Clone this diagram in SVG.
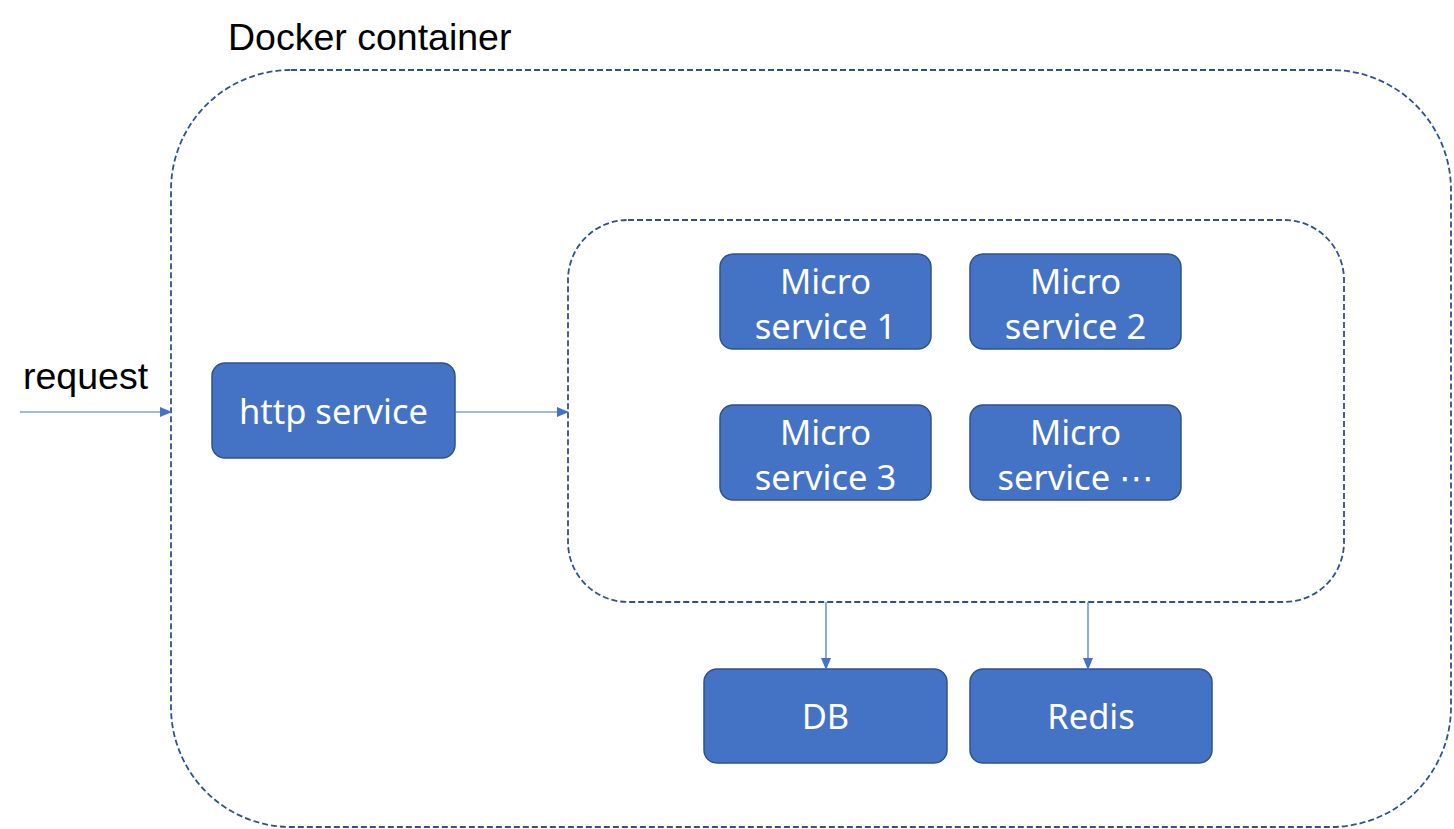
<svg xmlns="http://www.w3.org/2000/svg" width="1454" height="829" viewBox="0 0 1454 829">
<style>
.box{fill:#4472C4;stroke:#2F528F;stroke-width:1.5}
.cont{fill:none;stroke:#2F528F;stroke-width:1.8;stroke-dasharray:6 3}
.lbl{fill:#fff;font-family:"Noto Sans","DejaVu Sans",sans-serif;font-size:34.5px;text-anchor:middle}
.blk{fill:#000;font-family:"Liberation Sans",Arial,sans-serif;font-size:37.5px}
.conn{stroke:#4472C4;stroke-width:1.2;fill:none;marker-end:url(#ah)}
</style>
<defs>
<marker id="ah" markerWidth="12" markerHeight="10" refX="11" refY="5" orient="auto" markerUnits="userSpaceOnUse">
<path d="M0,0 L12,5 L0,10 Z" fill="#4472C4"/>
</marker>
</defs>
<rect width="1454" height="829" fill="#fff"/>
<g id="docker-container">
<rect class="cont" x="171" y="70" width="1280" height="757" rx="120" ry="120"/>
<text class="blk" x="228" y="50">Docker container</text>
</g>
<g id="request-label"><text class="blk" x="23" y="389">request</text></g>
<g id="micro-group"><rect class="cont" x="568" y="220" width="776" height="382" rx="60" ry="60"/></g>
<g id="http-service"><rect class="box" x="212" y="363" width="243" height="95" rx="13"/><text class="lbl" x="333.5" y="424">http service</text></g>
<g id="micro-1"><rect class="box" x="720" y="254" width="211" height="95" rx="13"/><text class="lbl" x="825.5" y="294">Micro</text><text class="lbl" x="825.5" y="339">service 1</text></g>
<g id="micro-2"><rect class="box" x="970" y="254" width="211" height="95" rx="13"/><text class="lbl" x="1075.5" y="294">Micro</text><text class="lbl" x="1075.5" y="339">service 2</text></g>
<g id="micro-3"><rect class="box" x="720" y="405" width="211" height="95" rx="13"/><text class="lbl" x="825.5" y="445">Micro</text><text class="lbl" x="825.5" y="490">service 3</text></g>
<g id="micro-n"><rect class="box" x="970" y="405" width="211" height="95" rx="13"/><text class="lbl" x="1075.5" y="445">Micro</text><text class="lbl" x="1075.5" y="490">service ⋯</text></g>
<g id="db"><rect class="box" x="704" y="669" width="243" height="94" rx="13"/><text class="lbl" x="825.5" y="729">DB</text></g>
<g id="redis"><rect class="box" x="970" y="669" width="242" height="94" rx="13"/><text class="lbl" x="1091" y="729">Redis</text></g>
<g id="connectors">
<line class="conn" x1="20" y1="412" x2="171" y2="412"/>
<line class="conn" x1="455" y1="412" x2="568" y2="412"/>
<line class="conn" x1="826" y1="602" x2="826" y2="669"/>
<line class="conn" x1="1088" y1="602" x2="1088" y2="669"/>
</g>
</svg>
